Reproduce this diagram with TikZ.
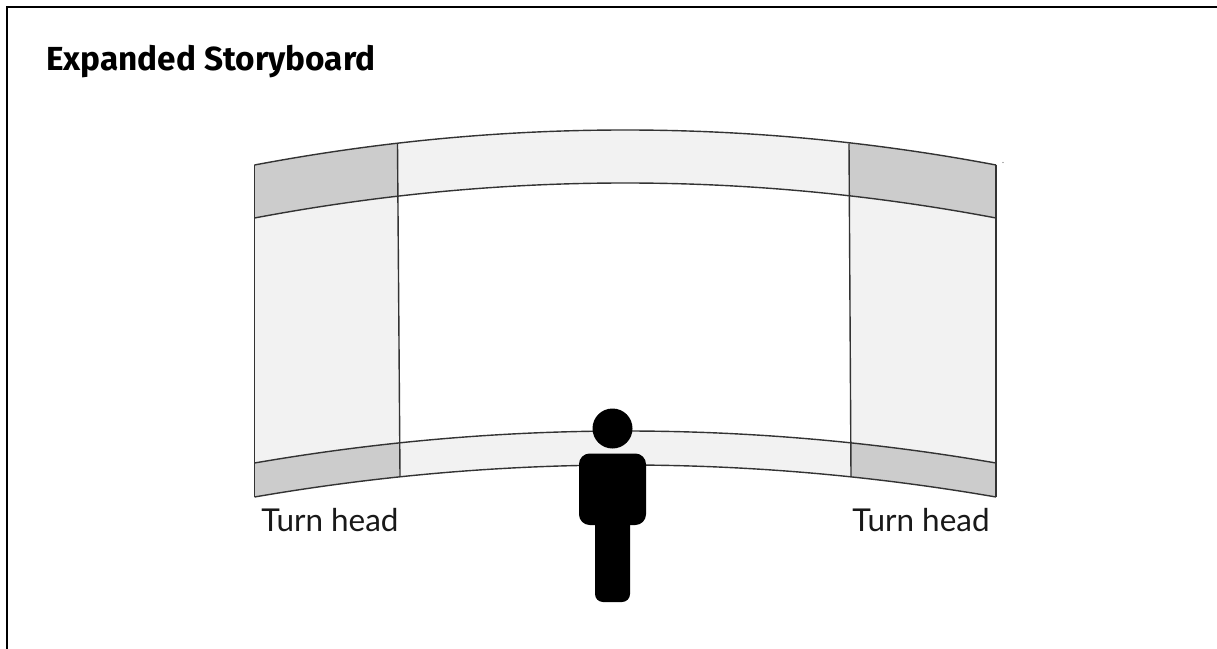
\documentclass[tikz,border=0pt]{standalone}
\usepackage{fontspec}
\setmainfont{Lato}
\newfontfamily\titlefont{Fira Sans}
\tikzset{
  px/.style={x=0.75pt,y=-0.75pt},
  wire/.style={draw=black!80,line width=1.05pt},
  frameline/.style={draw=black,line width=1.9pt},
  light/.style={fill=lightpanel},
  dark/.style={fill=darkpanel},
  figure part/.style={fill=black},
  title text/.style={anchor=base west,inner sep=0pt,font=\titlefont\bfseries\fontsize{25}{30}\selectfont},
  label text/.style={anchor=base west,inner sep=0pt,text=black!90,font=\fontsize{23.6}{28}\selectfont},
}
\definecolor{lightpanel}{HTML}{F2F2F2}
\definecolor{darkpanel}{HTML}{CCCCCC}
% Each arc is a parabola between x=254.5 and x=996 with apex at x=625.25
\newcommand{\arcLR}[2]{(254.5,#1) .. controls (501.67,#2) and (748.83,#2) .. (996,#1)}
\newcommand{\arcRL}[2]{(996,#1) .. controls (748.83,#2) and (501.67,#2) .. (254.5,#1)}
\begin{document}
\begin{tikzpicture}[px]
\useasboundingbox (0,0) rectangle (1217,649);
\fill[white] (0,0) rectangle (1217,649);
% whole light screen
\fill[light] \arcLR{165}{118.33} -- \arcRL{497}{454.33} -- cycle;
% central white panel
\begin{scope}
  \clip (397.5,100) -- (849,100) -- (851,520) -- (400,520) -- cycle;
  \fill[white] \arcLR{218}{171.33} -- \arcRL{463}{420.33} -- cycle;
\end{scope}
% dark corners, left
\begin{scope}
  \clip (240,100) -- (397.5,100) -- (400,520) -- (240,520) -- cycle;
  \fill[dark] \arcLR{165}{118.33} -- \arcRL{218}{171.33} -- cycle;
  \fill[dark] \arcLR{463}{420.33} -- \arcRL{497}{454.33} -- cycle;
\end{scope}
% dark corners, right
\begin{scope}
  \clip (849,100) -- (1010,100) -- (1010,520) -- (851,520) -- cycle;
  \fill[dark] \arcLR{165}{118.33} -- \arcRL{218}{171.33} -- cycle;
  \fill[dark] \arcLR{463}{420.33} -- \arcRL{497}{454.33} -- cycle;
\end{scope}
% outlines
\draw[wire] \arcLR{165}{118.33};
\draw[wire] \arcLR{218}{171.33};
\draw[wire] \arcLR{463}{420.33};
\draw[wire] \arcLR{497}{454.33};
\draw[wire] (254.5,165) -- (254.5,497);
\draw[wire] (996,165) -- (996,497);
\draw[wire] (397.5,143.5) -- (400,476.5);
\draw[wire] (849,143.5) -- (851,476.5);
% stray dot
\fill[black!60] (1003,162.5) circle (0.7);
% person
\fill[figure part] (612.5,428.5) circle (20);
\fill[figure part,rounded corners=8pt] (579,453.5) rectangle (646,525);
\fill[figure part,rounded corners=6pt] (595,500) rectangle (630,602);
% frame
\draw[frameline] (7,649) -- (7,7) -- (1217,7);
% text
\node[title text] (title) at (46,71) {Expanded Storyboard};
\node[label text] (turnL) at (261,531) {Turn head};
\node[label text] (turnR) at (852,531) {Turn head};
\end{tikzpicture}
\end{document}
